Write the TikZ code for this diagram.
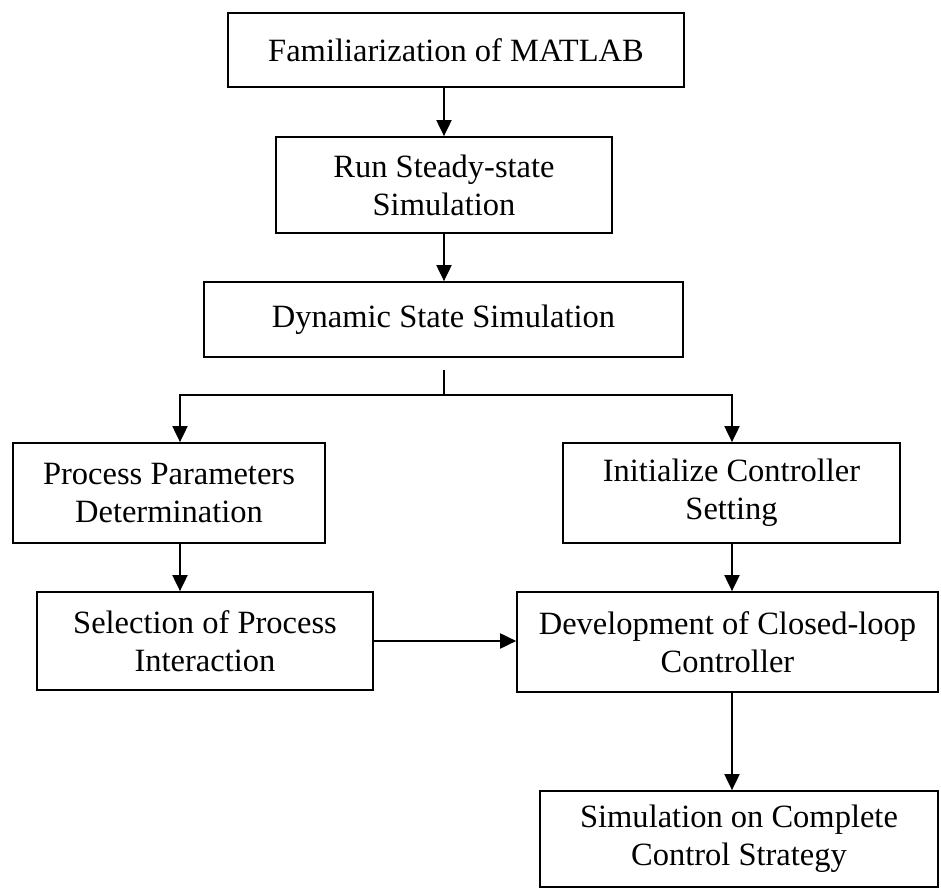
\documentclass[tikz,border=0pt]{standalone}
\usepackage{fontspec}
\setmainfont{Liberation Serif}
\usetikzlibrary{arrows.meta, positioning}

\begin{document}
\begin{tikzpicture}[
    x=0.02cm, y=-0.02cm,
    block/.style={draw, line width=1pt, inner sep=0pt, align=center,
        font=\fontsize{18.5}{21.5}\selectfont},
    boxsize/.style 2 args={minimum width=#1, minimum height=#2},
    flow/.style={line width=1.1pt, -{Triangle[length=0.32cm, width=0.3cm]}}]

\useasboundingbox (0,0) rectangle (941,888);

% Main sequence
\node[block, boxsize={9.12cm}{1.48cm}] (matlab) at (456,50) {Familiarization of MATLAB};
\node[block, boxsize={6.72cm}{1.92cm}] (steady) at (444,185) {Run Steady-state\\Simulation};
\node[block, boxsize={9.58cm}{1.5cm}] (dynamic) at (443.5,319.5) {Dynamic State Simulation};

% Branch points
\coordinate (stub) at (444,370);
\coordinate (split) at (444,395);
\coordinate (lft) at (180,395);
\coordinate (rgt) at (732,395);

% Left branch
\node[block, boxsize={6.24cm}{2cm}] (param) at (169,493) {Process Parameters\\Determination};
\node[block, boxsize={6.72cm}{1.96cm}] (select) at (205,641) {Selection of Process\\Interaction};

% Right branch
\node[block, boxsize={6.74cm}{2cm}] (init) at (731.5,493) {Initialize Controller\\Setting};
\node[block, boxsize={8.42cm}{2cm}] (develop) at (727.5,642) {Development of Closed-loop\\Controller};
\node[block, boxsize={7.96cm}{1.92cm}] (complete) at (739,839) {Simulation on Complete\\Control Strategy};

% Connectors
\draw[flow] (matlab.south -| steady.north) -- (steady.north);
\draw[flow] (steady.south) -- (steady.south |- dynamic.north);
\draw[line width=1.1pt] (stub) -- (split);
\draw[flow] (split) -| (param.north -| lft);
\draw[flow] (split) -| (init.north -| rgt);
\draw[flow] (param.south -| lft) -- (select.north -| lft);
\draw[flow] (init.south -| rgt) -- (develop.north -| rgt);
\draw[flow] (select.east) -- (select.east -| develop.west);
\draw[flow] (develop.south -| rgt) -- (complete.north -| rgt);

\end{tikzpicture}
\end{document}
